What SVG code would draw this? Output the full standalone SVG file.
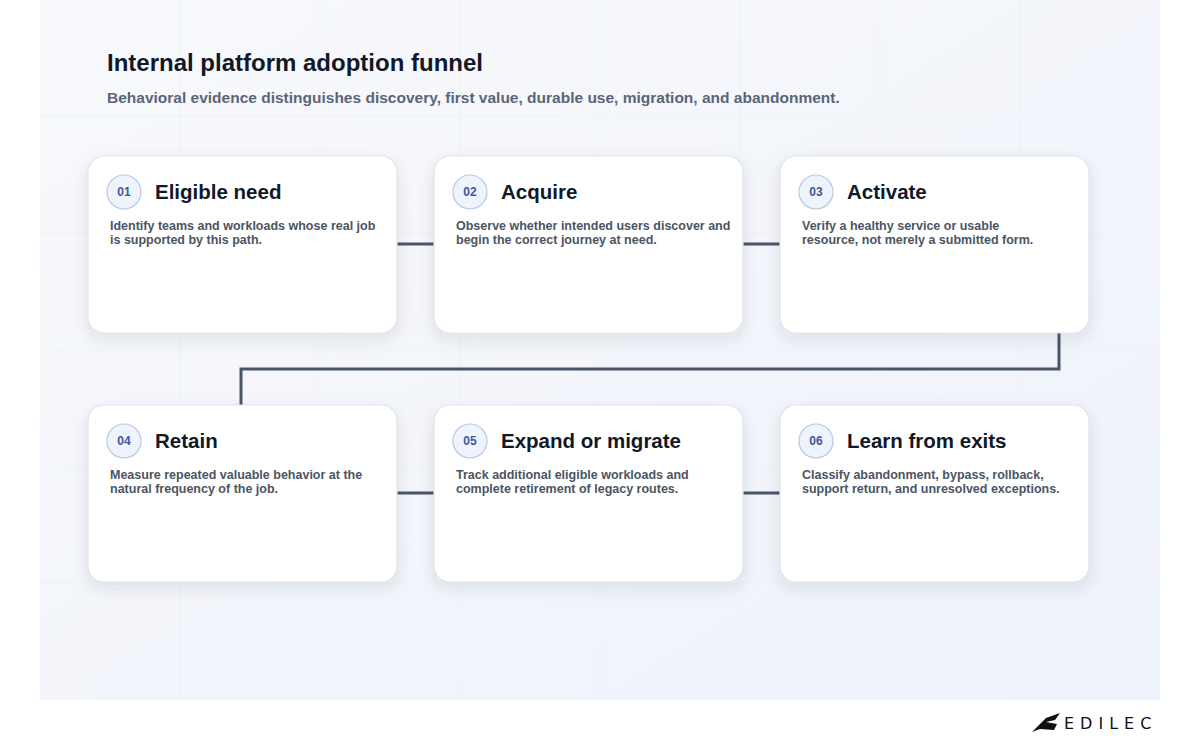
<svg xmlns="http://www.w3.org/2000/svg" width="1200" height="750" viewBox="0 0 1200 750">
<defs>
<linearGradient id="bg" x1="0" y1="0" x2="1" y2="1"><stop offset="0" stop-color="#f8f9fc"/><stop offset="1" stop-color="#eef2fb"/></linearGradient>
<filter id="sh" x="-20%" y="-20%" width="140%" height="150%"><feDropShadow dx="0" dy="6" stdDeviation="8" flood-color="#1e293b" flood-opacity="0.10"/></filter>
<style>
.card{fill:#fff;stroke:#dfe3ea;stroke-width:1.2;filter:url(#sh)}
.num{fill:#eef3fc;stroke:#b8c8e6;stroke-width:1.2}
.nt{font-family:"Liberation Sans",Arial,sans-serif;font-size:12px;font-weight:700;fill:#3b5a9a;text-anchor:middle}
.tt{font-family:"Liberation Sans",Arial,sans-serif;font-size:20.5px;font-weight:700;fill:#111827}
.bt{font-family:"Liberation Sans",Arial,sans-serif;font-size:12.5px;font-weight:700;fill:#4b5563}
.cn{fill:none;stroke:#4a5568;stroke-width:3}
.grid{stroke:#eef1f6;stroke-width:1}
</style>
</defs>
<rect width="1200" height="750" fill="#ffffff"/>
<rect x="40" y="0" width="1120" height="700" fill="url(#bg)"/>
<g class="grid">
<line x1="40" y1="116" x2="1160" y2="116"/><line x1="40" y1="233" x2="1160" y2="233"/><line x1="40" y1="350" x2="1160" y2="350"/><line x1="40" y1="466" x2="1160" y2="466"/><line x1="40" y1="583" x2="1160" y2="583"/>
<line x1="180" y1="0" x2="180" y2="700"/><line x1="320" y1="0" x2="320" y2="700"/><line x1="460" y1="0" x2="460" y2="700"/><line x1="600" y1="0" x2="600" y2="700"/><line x1="740" y1="0" x2="740" y2="700"/><line x1="880" y1="0" x2="880" y2="700"/><line x1="1020" y1="0" x2="1020" y2="700"/>
</g>
<text x="107" y="71" font-family="Liberation Sans,Arial,sans-serif" font-size="24" font-weight="700" fill="#111827">Internal platform adoption funnel</text>
<text x="107" y="103" font-family="Liberation Sans,Arial,sans-serif" font-size="15.5" font-weight="700" fill="#5b6578">Behavioral evidence distinguishes discovery, first value, durable use, migration, and abandonment.</text>
<g id="connectors">
<line class="cn" x1="397" y1="244" x2="434" y2="244"/>
<line class="cn" x1="743" y1="244" x2="780" y2="244"/>
<polyline class="cn" points="1059,333 1059,369 241,369 241,405"/>
<line class="cn" x1="397" y1="493" x2="434" y2="493"/>
<line class="cn" x1="743" y1="493" x2="780" y2="493"/>
</g>
<g id="n1"><rect class="card" x="88" y="156" width="309" height="177" rx="16"/><circle class="num" cx="124" cy="192" r="17"/><text class="nt" x="124" y="196">01</text><text class="tt" x="155" y="199">Eligible need</text><text class="bt" x="110" y="230">Identify teams and workloads whose real job</text><text class="bt" x="110" y="244">is supported by this path.</text></g>
<g id="n2"><rect class="card" x="434" y="156" width="309" height="177" rx="16"/><circle class="num" cx="470" cy="192" r="17"/><text class="nt" x="470" y="196">02</text><text class="tt" x="501" y="199">Acquire</text><text class="bt" x="456" y="230">Observe whether intended users discover and</text><text class="bt" x="456" y="244">begin the correct journey at need.</text></g>
<g id="n3"><rect class="card" x="780" y="156" width="309" height="177" rx="16"/><circle class="num" cx="816" cy="192" r="17"/><text class="nt" x="816" y="196">03</text><text class="tt" x="847" y="199">Activate</text><text class="bt" x="802" y="230">Verify a healthy service or usable</text><text class="bt" x="802" y="244">resource, not merely a submitted form.</text></g>
<g id="n4"><rect class="card" x="88" y="405" width="309" height="177" rx="16"/><circle class="num" cx="124" cy="441" r="17"/><text class="nt" x="124" y="445">04</text><text class="tt" x="155" y="448">Retain</text><text class="bt" x="110" y="479">Measure repeated valuable behavior at the</text><text class="bt" x="110" y="493">natural frequency of the job.</text></g>
<g id="n5"><rect class="card" x="434" y="405" width="309" height="177" rx="16"/><circle class="num" cx="470" cy="441" r="17"/><text class="nt" x="470" y="445">05</text><text class="tt" x="501" y="448">Expand or migrate</text><text class="bt" x="456" y="479">Track additional eligible workloads and</text><text class="bt" x="456" y="493">complete retirement of legacy routes.</text></g>
<g id="n6"><rect class="card" x="780" y="405" width="309" height="177" rx="16"/><circle class="num" cx="816" cy="441" r="17"/><text class="nt" x="816" y="445">06</text><text class="tt" x="847" y="448">Learn from exits</text><text class="bt" x="802" y="479">Classify abandonment, bypass, rollback,</text><text class="bt" x="802" y="493">support return, and unresolved exceptions.</text></g>
<g id="logo"><path d="M1032,732 L1046,718 L1060,713 L1055,720 L1046,722 L1057,724 L1054,730 L1040,729 Z" fill="#111"/><text x="1064" y="729" font-family="DejaVu Sans,sans-serif" font-size="16" letter-spacing="6" fill="#111">EDILEC</text></g>
</svg>
